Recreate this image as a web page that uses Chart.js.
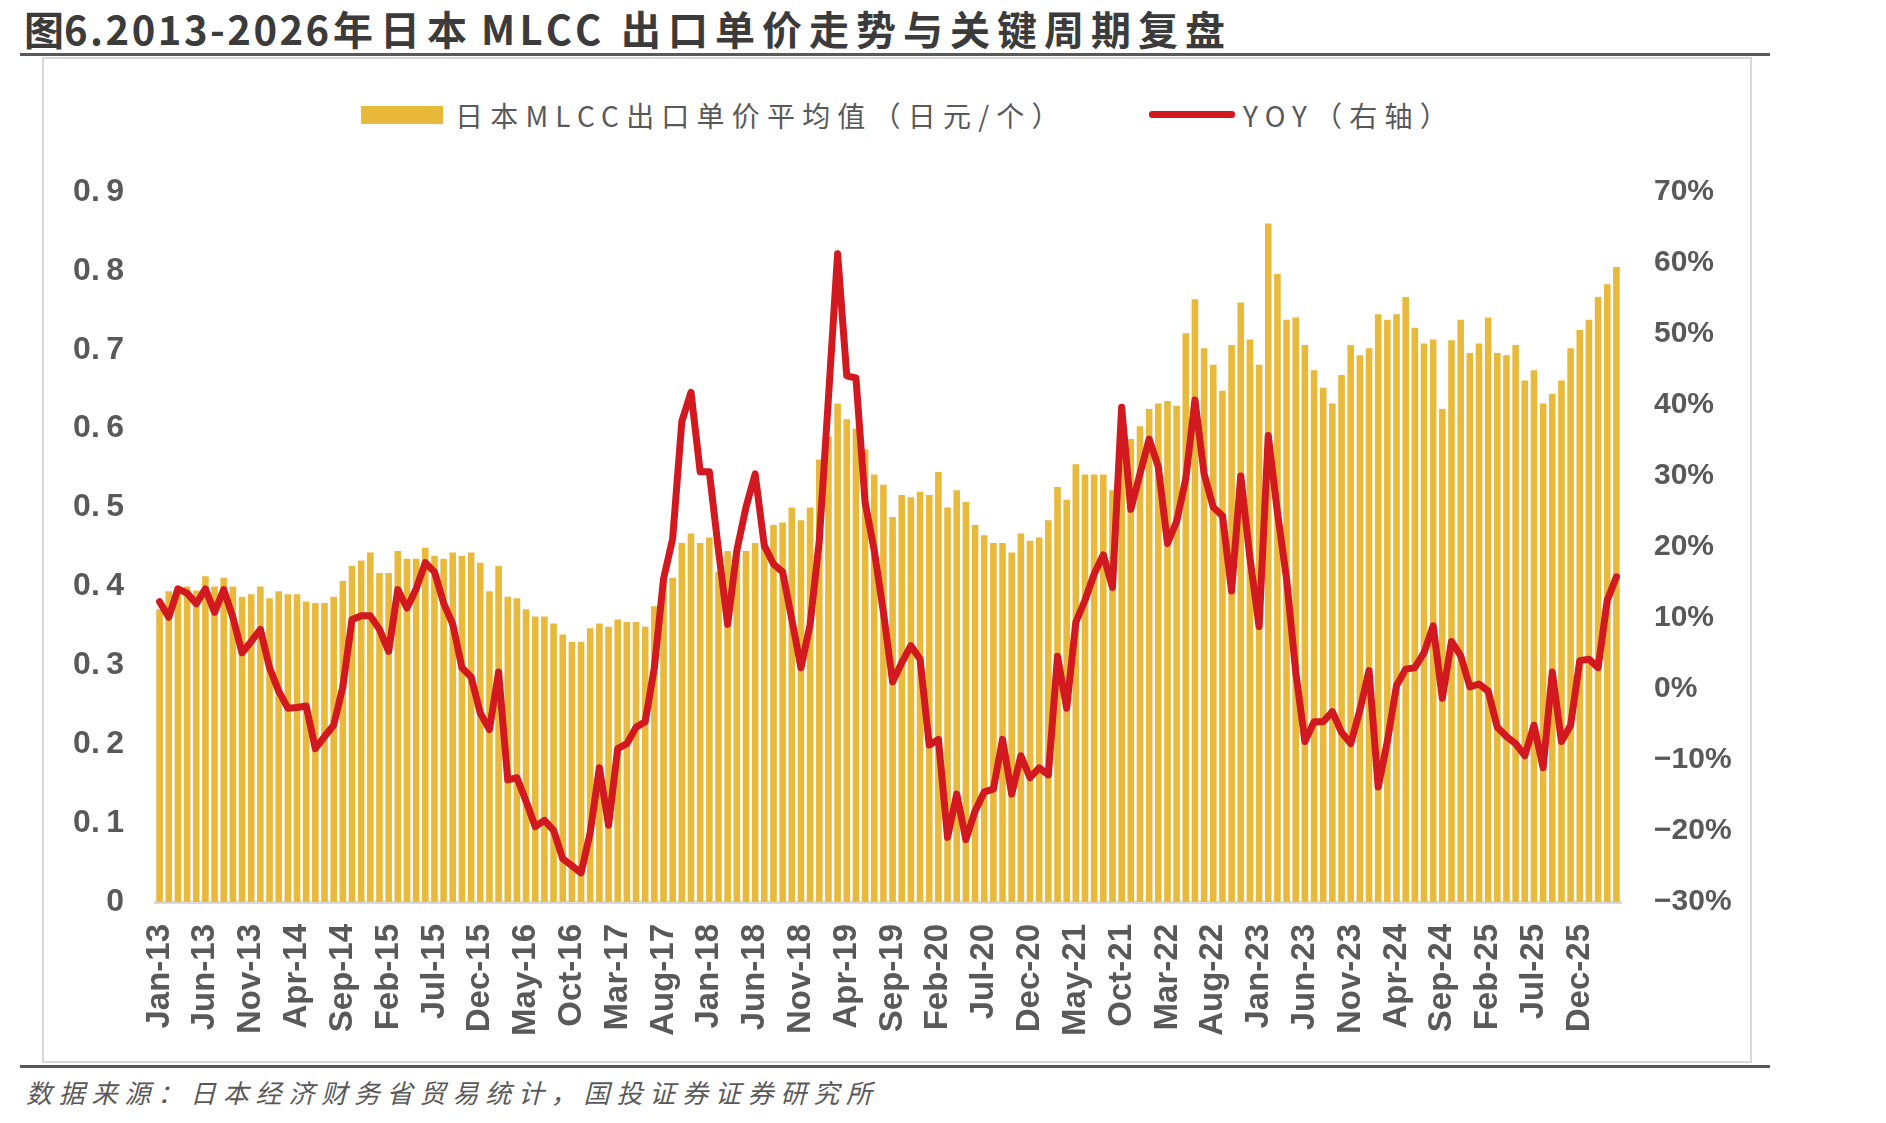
<!DOCTYPE html>
<html>
<head>
    <meta charset="utf-8" />
    <title>日本MLCC出口单价走势</title>
    <script src="https://cdn.jsdelivr.net/npm/chart.js"></script>
    <style>
        body {
            margin: 0;
            width: 1886px;
            height: 1123px;
            position: relative;
            overflow: hidden;
            background: #fff;
            font-family: "Noto Sans CJK SC", sans-serif;
        }
        .title span {
            position: absolute;
            top: 4px;
            font-size: 40px;
            line-height: 48px;
            font-weight: bold;
            color: #3b3b3b;
            white-space: nowrap;
        }
        .rule {
            position: absolute;
            left: 20px;
            width: 1750px;
            height: 3px;
            background: #595959;
        }
        #frame {
            position: absolute;
            left: 42px;
            top: 57px;
            width: 1706px;
            height: 1002px;
            border: 2px solid #d9d9d9;
        }
        #box {
            position: absolute;
            left: 44px;
            top: 59px;
        }
        .lg-text {
            position: absolute;
            top: 97px;
            font-size: 28px;
            line-height: 36px;
            color: #595959;
            letter-spacing: 7.2px;
            white-space: nowrap;
        }
        .source {
            position: absolute;
            left: 26px;
            top: 1075px;
            font-size: 26px;
            line-height: 34px;
            font-style: italic;
            color: #595959;
            letter-spacing: 6.8px;
            white-space: nowrap;
        }
    </style>
</head>
<body>
    <div class="title">
        <span style="left:24px">图</span>
        <span style="left:64px; letter-spacing:2.5px">6.2013-2026</span>
        <span style="left:333px; letter-spacing:7px">年日本</span>
        <span style="left:481px; letter-spacing:4.5px">MLCC</span>
        <span style="left:621px; letter-spacing:7px">出口单价走势与关键周期复盘</span>
    </div>
    <div class="rule" style="top:53px"></div>
    <div id="frame"></div>

    <!-- legend -->
    <div style="position:absolute; left:361px; top:106px; width:82px; height:18px; background:#E8B93B"></div>
    <div class="lg-text" style="left:455px">日本MLCC出口单价平均值（日元/个）</div>
    <div style="position:absolute; left:1149px; top:111px; width:86px; height:7px; border-radius:3px; background:#D2191F"></div>
    <div class="lg-text" style="left:1243px">YOY（右轴）</div>

    <div id="box"><canvas id="chart" width="1706" height="1002"></canvas></div>

    <div class="rule" style="top:1065px"></div>
    <div class="source">数据来源：日本经济财务省贸易统计，国投证券证券研究所</div>

    <script>
        // 日本MLCC出口单价（日元/个），2013.01 - 2026.04
        var price = [
            0.371, 0.394, 0.400, 0.400, 0.395, 0.413, 0.400, 0.411, 0.400, 0.387, 0.390, 0.400,
            0.385, 0.394, 0.390, 0.390, 0.381, 0.379, 0.379, 0.387, 0.407, 0.426, 0.433, 0.443,
            0.417, 0.417, 0.445, 0.435, 0.435, 0.449, 0.439, 0.435, 0.443, 0.439, 0.443, 0.430,
            0.394, 0.426, 0.387, 0.385, 0.371, 0.362, 0.362, 0.353, 0.339, 0.330, 0.330, 0.347,
            0.353, 0.349, 0.358, 0.355, 0.355, 0.349, 0.375, 0.410, 0.411, 0.455, 0.467, 0.455,
            0.462, 0.419, 0.445, 0.445, 0.445, 0.455, 0.455, 0.478, 0.481, 0.500, 0.484, 0.500,
            0.561, 0.590, 0.632, 0.612, 0.600, 0.574, 0.542, 0.529, 0.488, 0.516, 0.513, 0.520,
            0.516, 0.545, 0.500, 0.522, 0.507, 0.478, 0.465, 0.455, 0.455, 0.443, 0.467, 0.458,
            0.462, 0.484, 0.526, 0.510, 0.555, 0.542, 0.542, 0.542, 0.522, 0.585, 0.587, 0.603,
            0.625, 0.632, 0.635, 0.629, 0.721, 0.764, 0.702, 0.681, 0.648, 0.706, 0.760, 0.713,
            0.681, 0.860, 0.796, 0.738, 0.741, 0.706, 0.674, 0.652, 0.632, 0.668, 0.706, 0.693,
            0.702, 0.745, 0.738, 0.745, 0.767, 0.728, 0.708, 0.713, 0.625, 0.712, 0.738, 0.696,
            0.708, 0.741, 0.696, 0.693, 0.706, 0.661, 0.674, 0.632, 0.644, 0.661, 0.702, 0.725,
            0.738, 0.767, 0.783, 0.805
        ];

        // 同比（%，右轴）
        var yoy = [
            12.3, 10.1, 14.1, 13.5, 12.0, 14.1, 10.8, 14.0, 10.1, 5.1, 6.7, 8.4,
            3.0, -0.3, -2.7, -2.6, -2.4, -8.4, -6.7, -5.1, 0.3, 9.8, 10.3, 10.3,
            8.4, 5.3, 14.0, 11.4, 14.1, 17.8, 16.5, 12.1, 9.1, 3.0, 1.7, -3.4,
            -5.7, 2.4, -12.8, -12.5, -15.8, -19.4, -18.5, -19.9, -23.9, -24.9, -25.9, -20.2,
            -11.1, -19.2, -8.4, -7.7, -5.4, -4.6, 3.0, 15.5, 21.2, 37.7, 41.8, 30.6,
            30.6, 19.5, 9.1, 19.5, 25.6, 30.3, 20.2, 17.6, 16.5, 9.8, 3.0, 9.1,
            20.9, 41.0, 61.3, 44.1, 43.8, 26.3, 19.5, 10.8, 1.0, 3.7, 6.1, 4.2,
            -7.9, -7.1, -20.9, -14.8, -21.2, -17.2, -14.5, -14.1, -7.1, -14.8, -9.4, -12.5,
            -11.1, -12.1, 4.6, -2.7, 9.4, 12.5, 16.2, 18.9, 14.3, 39.7, 25.3, 30.3,
            35.2, 31.3, 20.5, 23.6, 29.6, 40.7, 30.3, 25.6, 24.4, 13.8, 30.0, 18.5,
            8.8, 35.7, 24.9, 15.5, 2.4, -7.4, -4.6, -4.6, -3.2, -6.1, -7.7, -3.0,
            2.6, -13.8, -7.4, 0.5, 2.8, 3.0, 5.1, 8.9, -1.3, 6.7, 4.7, 0.3,
            0.7, -0.3, -5.4, -6.7, -7.7, -9.4, -5.1, -11.1, 2.4, -7.4, -5.1, 4.0,
            4.2, 3.0, 12.5, 15.8
        ];

        var monthNames = ['Jan', 'Feb', 'Mar', 'Apr', 'May', 'Jun', 'Jul', 'Aug', 'Sep', 'Oct', 'Nov', 'Dec'];
        var labels = [];
        for (var i = 0; i < price.length; i++) {
            labels.push(monthNames[i % 12] + '-' + (13 + Math.floor(i / 12)));
        }

        var tickColor = '#595959';

        new Chart(document.getElementById('chart'), {
            type: 'bar',
            data: {
                labels: labels,
                datasets: [{
                    type: 'line',
                    label: 'YOY（右轴）',
                    data: yoy,
                    yAxisID: 'y1',
                    borderColor: '#D2191F',
                    borderWidth: 7,
                    borderJoinStyle: 'round',
                    borderCapStyle: 'round',
                    pointRadius: 0,
                    tension: 0,
                    order: 0
                }, {
                    label: '日本MLCC出口单价平均值（日元/个）',
                    data: price,
                    yAxisID: 'y',
                    backgroundColor: '#E8B93B',
                    borderWidth: 0,
                    barPercentage: 0.72,
                    categoryPercentage: 1.0,
                    order: 1
                }]
            },
            options: {
                responsive: false,
                animation: false,
                layout: { padding: { top: 133, left: 0, right: 0, bottom: 0 } },
                plugins: {
                    legend: { display: false },
                    tooltip: { enabled: false }
                },
                scales: {
                    x: {
                        offset: true,
                        grid: { display: false, drawTicks: false },
                        border: { display: true, color: '#d9d9d9', width: 3 },
                        ticks: {
                            autoSkip: false,
                            maxRotation: 90,
                            minRotation: 90,
                            padding: 22,
                            color: tickColor,
                            font: { family: 'Liberation Sans', size: 33, weight: 'bold' },
                            callback: function(v, i) { return i % 5 === 0 ? labels[i] : ''; }
                        },
                        afterFit: function(s) { s.height = 159; }
                    },
                    y: {
                        position: 'left',
                        min: 0,
                        max: 0.9,
                        grid: { display: false, drawTicks: false },
                        border: { display: false },
                        ticks: {
                            stepSize: 0.1,
                            padding: 31,
                            color: tickColor,
                            font: { family: 'Liberation Sans', size: 32, weight: 'bold' },
                            callback: function(v) { return v === 0 ? '0' : v.toFixed(1).replace('.', '.\u2009'); }
                        },
                        afterFit: function(s) { s.width = 111; }
                    },
                    y1: {
                        position: 'right',
                        min: -30,
                        max: 70,
                        grid: { display: false, drawTicks: false },
                        border: { display: false },
                        ticks: {
                            stepSize: 10,
                            padding: 33,
                            color: tickColor,
                            font: { family: 'Liberation Sans', size: 30, weight: 'bold' },
                            callback: function(v) { return (v < 0 ? '\u2212' + Math.abs(v) : v) + '%'; }
                        },
                        afterFit: function(s) { s.width = 129; }
                    }
                }
            }
        });
    </script>
</body>
</html>
